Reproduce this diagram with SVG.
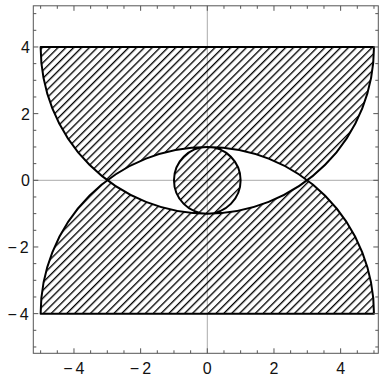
<svg xmlns="http://www.w3.org/2000/svg" width="380" height="378" viewBox="0 0 380 378">
<style>
.frame{fill:none;stroke:#555;stroke-width:1}
.tick{fill:none;stroke:#555;stroke-width:1}
.axis{fill:none;stroke:#aaa;stroke-width:1}
.region{fill:url(#hatch);fill-rule:evenodd;stroke:#000;stroke-width:2;stroke-linejoin:round}
.lbl{font-family:"Liberation Sans",Arial,sans-serif;font-size:16px;fill:#111}
</style>
<defs>
<pattern id="hatch" patternUnits="userSpaceOnUse" width="5.55" height="10" patternTransform="rotate(45)">
<line x1="2.49" y1="-1" x2="2.49" y2="11" stroke="#000" stroke-width="1.35"/>
</pattern>
</defs>
<rect width="380" height="378" fill="#fff"/>
<g id="axes">
<line class="axis" x1="207.3" y1="5.8" x2="207.3" y2="353.3"/>
<line class="axis" x1="33.3" y1="180.3" x2="378.3" y2="180.3"/>
</g>
<g id="region">
<path class="region" d="M40.63,46.97 H373.97 A166.67,166.67 0 0 1 40.63,46.97 Z M40.63,313.63 H373.97 A166.67,166.67 0 0 0 40.63,313.63 Z M240.63,180.3 A33.33,33.33 0 1 1 173.97,180.3 A33.33,33.33 0 1 1 240.63,180.3 Z"/>
</g>
<g id="frame">
<rect class="frame" x="33.3" y="5.8" width="345" height="347.5"/>
<path class="tick" d="
M40.63 353.3v-3M57.3 353.3v-3M73.97 353.3v-5M90.63 353.3v-3M107.3 353.3v-3M123.97 353.3v-3M140.63 353.3v-5M157.3 353.3v-3M173.97 353.3v-3M190.63 353.3v-3M207.3 353.3v-5M223.97 353.3v-3M240.63 353.3v-3M257.3 353.3v-3M273.97 353.3v-5M290.63 353.3v-3M307.3 353.3v-3M323.97 353.3v-3M340.63 353.3v-5M357.3 353.3v-3M373.97 353.3v-3
M40.63 5.8v3M57.3 5.8v3M73.97 5.8v5M90.63 5.8v3M107.3 5.8v3M123.97 5.8v3M140.63 5.8v5M157.3 5.8v3M173.97 5.8v3M190.63 5.8v3M207.3 5.8v5M223.97 5.8v3M240.63 5.8v3M257.3 5.8v3M273.97 5.8v5M290.63 5.8v3M307.3 5.8v3M323.97 5.8v3M340.63 5.8v5M357.3 5.8v3M373.97 5.8v3
M33.3 13.63h3M33.3 30.3h3M33.3 46.97h5M33.3 63.63h3M33.3 80.3h3M33.3 96.97h3M33.3 113.63h5M33.3 130.3h3M33.3 146.97h3M33.3 163.63h3M33.3 180.3h5M33.3 196.97h3M33.3 213.63h3M33.3 230.3h3M33.3 246.97h5M33.3 263.63h3M33.3 280.3h3M33.3 296.97h3M33.3 313.63h5M33.3 330.3h3M33.3 346.97h3
M378.3 13.63h-3M378.3 30.3h-3M378.3 46.97h-5M378.3 63.63h-3M378.3 80.3h-3M378.3 96.97h-3M378.3 113.63h-5M378.3 130.3h-3M378.3 146.97h-3M378.3 163.63h-3M378.3 180.3h-5M378.3 196.97h-3M378.3 213.63h-3M378.3 230.3h-3M378.3 246.97h-5M378.3 263.63h-3M378.3 280.3h-3M378.3 296.97h-3M378.3 313.63h-5M378.3 330.3h-3M378.3 346.97h-3"/>
</g>
<g id="xlabels" class="lbl">
<text x="63.2" y="374">−<tspan dx="3">4</tspan></text>
<text x="129.8" y="374">−<tspan dx="3">2</tspan></text>
<text x="207.3" y="374" text-anchor="middle">0</text>
<text x="273.97" y="374" text-anchor="middle">2</text>
<text x="340.63" y="374" text-anchor="middle">4</text>
</g>
<g id="ylabels" class="lbl">
<text x="29.8" y="53" text-anchor="end">4</text>
<text x="29.8" y="119.6" text-anchor="end">2</text>
<text x="29.8" y="186.3" text-anchor="end">0</text>
<text x="7.4" y="253">−<tspan dx="3">2</tspan></text>
<text x="7.4" y="319.6">−<tspan dx="3">4</tspan></text>
</g>
</svg>
